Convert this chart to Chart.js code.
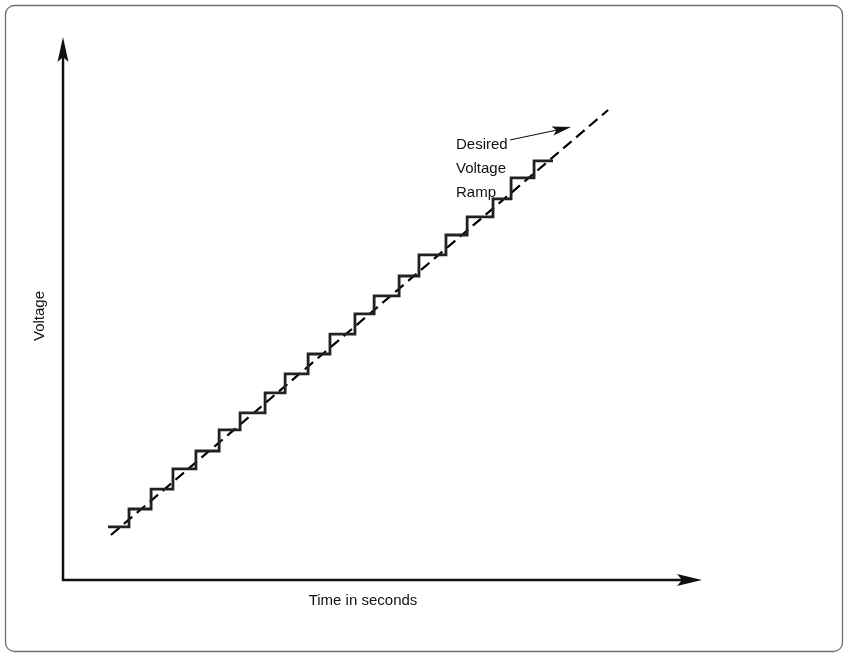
<!DOCTYPE html>
<html lang="en">
<head>
    <meta charset="UTF-8">
    <title>Desired Voltage Ramp</title>
    <script src="https://cdn.jsdelivr.net/npm/chart.js@4.4.1/dist/chart.umd.min.js"></script>
    <style>
        body { margin: 0; background: #fff; }
        canvas { display: block; }
    </style>
</head>
<body>
    <canvas id="rampChart" width="844" height="654"></canvas>

    <script>
        // staircase output: step times (s) and voltage level held after each step
        const stepTimes = [2.02, 2.96, 3.95, 4.93, 5.96, 7.00, 7.94, 9.06, 9.96, 10.99, 11.97,
            13.09, 13.95, 15.07, 15.96, 17.17, 18.12, 19.28, 20.09, 21.12, 21.97];
        const stepVolts = [2.90, 3.88, 4.97, 6.07, 7.05, 8.20, 9.13, 10.22, 11.26, 12.35, 13.44,
            14.54, 15.52, 16.61, 17.76, 18.85, 19.84, 20.82, 21.97, 22.90, 22.90];

        // desired ramp (dashed), start and end
        const rampTimes = [2.15, 24.44];
        const rampVolts = [2.46, 25.68];

        // axis extents
        const timeMax = 28.65;
        const voltMax = 29.67;

        const xTitle = 'Time in seconds';
        const yTitle = 'Voltage';
        const noteLines = ['Desired', 'Voltage', 'Ramp'];

        const FONT = '15px "Liberation Sans", Arial, sans-serif';

        function arrowHead(ctx, tipX, tipY, angle, len, half, notch) {
            ctx.save();
            ctx.translate(tipX, tipY);
            ctx.rotate(angle);
            ctx.beginPath();
            ctx.moveTo(0, 0);
            ctx.lineTo(-len, -half);
            ctx.lineTo(-len + notch, 0);
            ctx.lineTo(-len, half);
            ctx.closePath();
            ctx.fill();
            ctx.restore();
        }

        const decorPlugin = {
            id: 'decor',
            beforeDraw(chart) {
                const ctx = chart.ctx;
                ctx.save();
                ctx.fillStyle = '#fff';
                ctx.fillRect(0, 0, chart.width, chart.height);
                // rounded frame
                ctx.strokeStyle = '#6e6e6e';
                ctx.lineWidth = 1.3;
                ctx.beginPath();
                ctx.roundRect(5.5, 5.5, 837, 646, 9);
                ctx.stroke();
                ctx.restore();
            },
            afterDraw(chart) {
                const ctx = chart.ctx;
                const xs = chart.scales.x, ys = chart.scales.y;
                const x0 = xs.getPixelForValue(0), y0 = ys.getPixelForValue(0);
                const xEnd = xs.getPixelForValue(timeMax), yEnd = ys.getPixelForValue(voltMax);

                ctx.save();
                // axes
                ctx.strokeStyle = '#111';
                ctx.fillStyle = '#111';
                ctx.lineWidth = 2.5;
                ctx.beginPath();
                ctx.moveTo(x0, yEnd + 18);
                ctx.lineTo(x0, y0);
                ctx.lineTo(xEnd - 18, y0);
                ctx.stroke();
                arrowHead(ctx, x0, yEnd, -Math.PI / 2, 25, 5.5, 5);
                arrowHead(ctx, xEnd, y0, 0, 25, 6, 5);

                // axis titles
                ctx.font = FONT;
                ctx.fillStyle = '#111';
                ctx.textAlign = 'center';
                ctx.textBaseline = 'alphabetic';
                ctx.fillText(xTitle, 363, 605);
                ctx.save();
                ctx.translate(44, 316);
                ctx.rotate(-Math.PI / 2);
                ctx.fillText(yTitle, 0, 0);
                ctx.restore();

                // annotation
                ctx.textAlign = 'left';
                noteLines.forEach((t, i) => ctx.fillText(t, 456, 149 + i * 24));

                const ax = 510, ay = 140;
                const tx = xs.getPixelForValue(22.78), ty = ys.getPixelForValue(24.75);
                const ang = Math.atan2(ty - ay, tx - ax);
                ctx.lineWidth = 1.2;
                ctx.strokeStyle = '#111';
                ctx.beginPath();
                ctx.moveTo(ax, ay);
                ctx.lineTo(tx - 12 * Math.cos(ang), ty - 12 * Math.sin(ang));
                ctx.stroke();
                arrowHead(ctx, tx, ty, ang, 19, 4.5, 4);
                ctx.restore();
            }
        };

        const ctx = document.getElementById('rampChart').getContext('2d');
        new Chart(ctx, {
            type: 'line',
            data: {
                datasets: [{
                    label: 'Output',
                    data: stepTimes.map((t, i) => ({ x: t, y: stepVolts[i] })),
                    stepped: 'before',
                    borderColor: '#222',
                    borderWidth: 2.8,
                    pointRadius: 0,
                    fill: false
                }, {
                    label: 'Desired ramp',
                    data: rampTimes.map((t, i) => ({ x: t, y: rampVolts[i] })),
                    borderColor: '#000',
                    borderWidth: 2.2,
                    borderDash: [11, 6],
                    pointRadius: 0,
                    fill: false
                }]
            },
            options: {
                responsive: false,
                animation: false,
                devicePixelRatio: 1,
                layout: { padding: { left: 63, top: 37, right: 142, bottom: 74 } },
                plugins: { legend: { display: false }, tooltip: { enabled: false } },
                scales: {
                    x: { type: 'linear', min: 0, max: timeMax, display: false },
                    y: { type: 'linear', min: 0, max: voltMax, display: false }
                }
            },
            plugins: [decorPlugin]
        });
    </script>
</body>
</html>
